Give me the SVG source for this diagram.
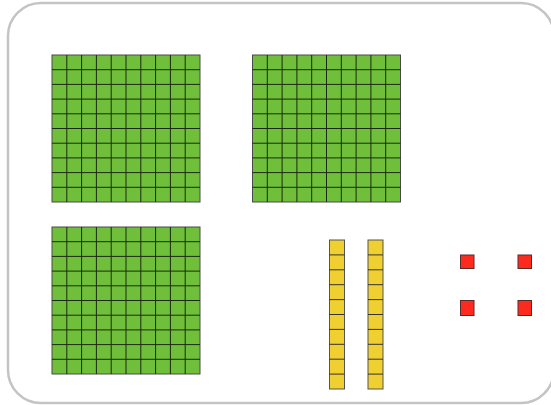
<svg xmlns="http://www.w3.org/2000/svg" xmlns:xlink="http://www.w3.org/1999/xlink" width="551" height="405" viewBox="0 0 551 405">
<style>
.frame{fill:#fff;stroke:#c4c4c4;stroke-width:2.5}
.hund{fill:#6fbf3b;stroke:#4a4a4a;stroke-width:1}
.gl{fill:none;stroke:#1a2a10;stroke-width:1}
.ten{fill:#f0d030;stroke:#555;stroke-width:1}
.tl{fill:none;stroke:#333;stroke-width:1}
.one{fill:#ff2a1e;stroke:#5a2a2a;stroke-width:1}
</style>
<defs>
<g id="hundred">
<rect class="hund" x="0" y="0" width="148" height="147"/>
<path class="gl" d="M14.8 0V147M29.6 0V147M44.4 0V147M59.2 0V147M74 0V147M88.8 0V147M103.6 0V147M118.4 0V147M133.2 0V147M0 14.7H148M0 29.4H148M0 44.1H148M0 58.8H148M0 73.5H148M0 88.2H148M0 102.9H148M0 117.6H148M0 132.3H148"/>
</g>
<g id="tenrod">
<rect class="ten" x="0" y="0" width="15" height="149"/>
<path class="tl" d="M0 14.9H15M0 29.8H15M0 44.7H15M0 59.6H15M0 74.5H15M0 89.4H15M0 104.3H15M0 119.2H15M0 134.1H15"/>
</g>
</defs>
<rect class="frame" x="8" y="3" width="546" height="400" rx="33" ry="33"/>
<g id="hundred1"><use xlink:href="#hundred" x="52" y="55"/></g>
<g id="hundred2"><use xlink:href="#hundred" x="252.5" y="55"/></g>
<g id="hundred3"><use xlink:href="#hundred" x="52" y="227"/></g>
<g id="ten1"><use xlink:href="#tenrod" x="329.5" y="240"/></g>
<g id="ten2"><use xlink:href="#tenrod" x="368" y="240"/></g>
<g id="one1"><rect class="one" x="460.5" y="255" width="13.5" height="13.5"/></g>
<g id="one2"><rect class="one" x="518" y="255" width="13.5" height="13.5"/></g>
<g id="one3"><rect class="one" x="460.5" y="300.5" width="13.5" height="15"/></g>
<g id="one4"><rect class="one" x="518" y="300.5" width="13.5" height="15"/></g>
<g id="connectors"></g>
</svg>
